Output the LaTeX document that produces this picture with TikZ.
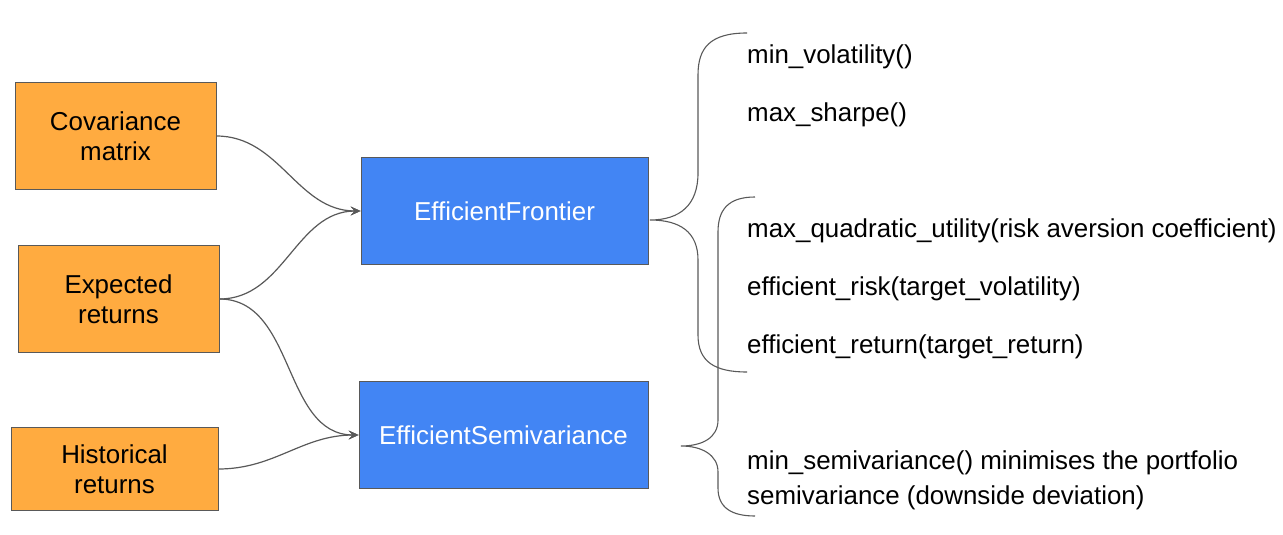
\documentclass[tikz,border=0pt]{standalone}
\usepackage{fontspec}
\setmainfont{Liberation Sans}
\usetikzlibrary{arrows.meta}
\definecolor{inorange}{HTML}{FFAB40}
\definecolor{optblue}{HTML}{4285F4}
\definecolor{linegray}{HTML}{595959}

\begin{document}
\begin{tikzpicture}[x=1pt,y=-1pt,input/.style={draw=linegray, rectangle, fill=inorange, align=center, font=\fontsize{25.9}{30}\selectfont, line width=0.8pt},opt/.style={draw=linegray, rectangle, fill=optblue, text=white, align=center, font=\fontsize{25.9}{30}\selectfont, line width=0.8pt},method/.style={anchor=west, inner sep=0pt, align=left, font=\fontsize{25.9}{35}\selectfont},flow/.style={draw=linegray, line width=1.2pt, -{Stealth[length=10pt, width=9pt, inset=4pt]}},brace/.style={draw=linegray, line width=1.1pt}]
  \useasboundingbox (0,0) rectangle (1283,535);
  % inputs
  \node[input, minimum width=201pt, minimum height=107pt] (cov) at (115.5,136) {Covariance\\matrix};
  \node[input, minimum width=201pt, minimum height=107pt] (expret) at (118.5,299) {Expected\\returns};
  \node[input, minimum width=207pt, minimum height=83pt] (hist) at (114.5,469) {Historical\\returns};
  % optimisers
  \node[opt, minimum width=287pt, minimum height=107pt] (ef) at (504.5,211) {EfficientFrontier};
  \node[opt, minimum width=289pt, minimum height=107pt] (es) at (503.5,435) {EfficientSemivariance};
  \draw[flow] (cov.east) to[out=0, in=180] (ef.west);
  \draw[flow] (expret.east) to[out=0, in=180] (ef.west);
  \draw[flow] (expret.east) to[out=0, in=180] (es.west);
  \draw[flow] (hist.east) to[out=0, in=180] (es.west);
  % methods
  \node[method] (minvol) at (747,57) {min\_volatility()};
  \node[method] (maxsh) at (747,115) {max\_sharpe()};
  \node[method] (maxqu) at (747,231) {max\_quadratic\_utility(risk aversion coefficient)};
  \node[method] (effrisk) at (747,289) {efficient\_risk(target\_volatility)};
  \node[method] (effret) at (747,347) {efficient\_return(target\_return)};
  \node[method] (minsv) at (747,480.5) {min\_semivariance() minimises the portfolio\\semivariance (downside deviation)};
  % braces
  \coordinate (eftip) at (650,220);
  \coordinate (eftop) at (747,33);
  \coordinate (efbot) at (747,372);
  \coordinate (estip) at (681,446);
  \coordinate (estop) at (755,197);
  \coordinate (esbot) at (755,516);
  \draw[brace] (eftop) .. controls (710,33) and (698,48) .. (698,75) -- (698,173) .. controls (698,205) and (680,220) .. (eftip) .. controls (680,220) and (698,232) .. (698,260) -- (698,335) .. controls (698,362) and (715,372) .. (efbot);
  \draw[brace] (estop) .. controls (728,197) and (718,210) .. (718,232) -- (718,420) .. controls (718,438) and (702,446) .. (estip) .. controls (702,446) and (718,455) .. (718,472) -- (718,488) .. controls (718,508) and (732,516) .. (esbot);
\end{tikzpicture}
\end{document}
